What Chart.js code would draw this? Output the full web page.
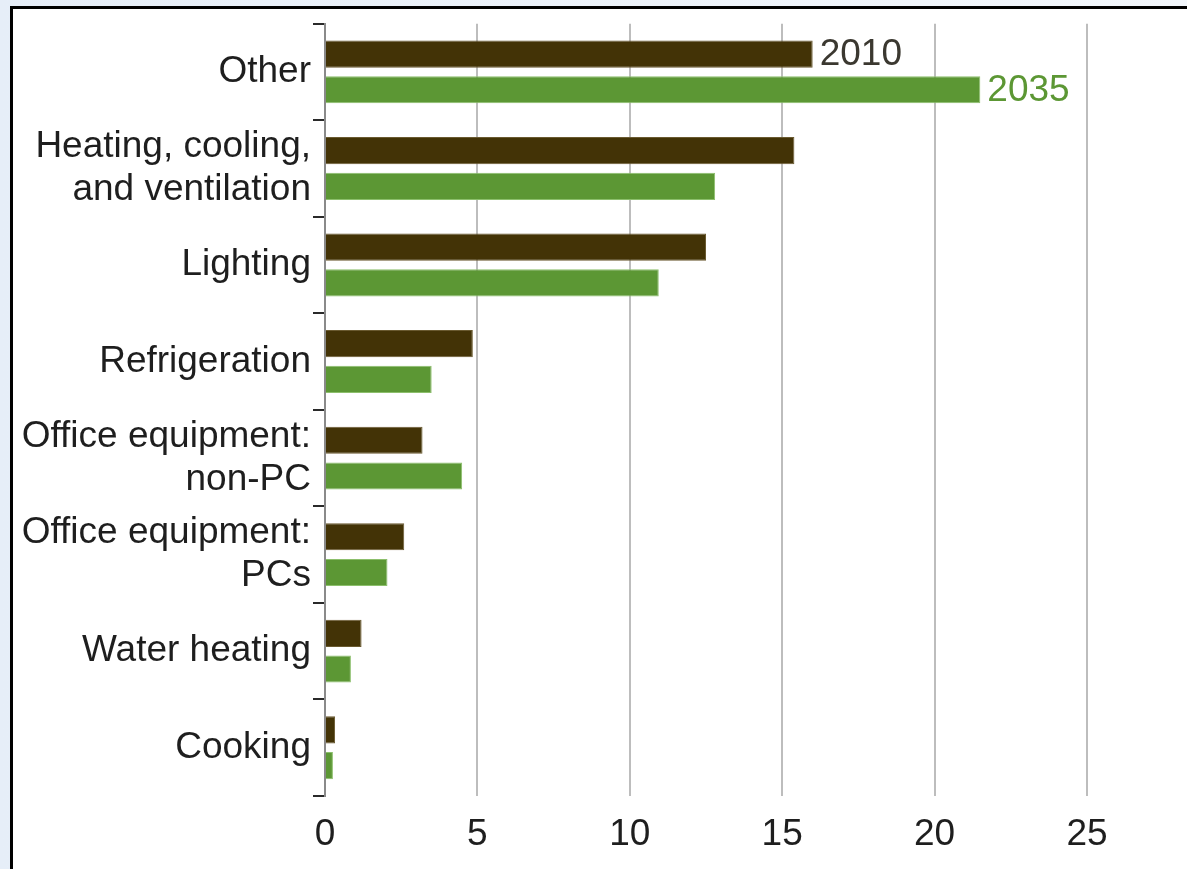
<!DOCTYPE html>
<html>
<head>
<meta charset="utf-8">
<script src="https://cdn.jsdelivr.net/npm/chart.js"></script>
<style>
    html, body { margin:0; padding:0; }
    body { width:1187px; height:869px; overflow:hidden; background:linear-gradient(90deg,#e6eef8,#f3f7fc); position:relative; }
    #marco { position:absolute; left:10px; top:6px; width:1200px; height:900px; background:#fff; border-left:3px solid #000; border-top:3px solid #000; }
    #grafico_ { position:absolute; left:0; top:0; }
</style>
</head>
<body>
<div id="marco"></div>
<canvas id="grafico_" width="1187" height="869"></canvas>
<script>

const categorias = [
    'Other',
    ['Heating, cooling,', 'and ventilation'],
    'Lighting',
    'Refrigeration',
    ['Office equipment:', 'non-PC'],
    ['Office equipment:', 'PCs'],
    'Water heating',
    'Cooking'
];
const series = ['2010', '2035'];
const valores2010 = [16.0, 15.4, 12.5, 4.85, 3.2, 2.6, 1.2, 0.33];
const valores2035 = [21.5, 12.8, 10.95, 3.5, 4.5, 2.05, 0.85, 0.26];
const ticksX = [0, 5, 10, 15, 20, 25];

const fuente = "'Liberation Sans', Arial, sans-serif";

// etiqueta del anio junto a la primera barra de cada serie
const etiquetaSerie = {
    id: 'etiquetaSerie',
    afterDatasetsDraw(chart) {
        const ctx = chart.ctx;
        chart.data.datasets.forEach((ds, i) => {
            const bar = chart.getDatasetMeta(i).data[0];
            ctx.save();
            ctx.font = '37px ' + fuente;
            ctx.fillStyle = ds.labelColor;
            ctx.textBaseline = 'middle';
            ctx.textAlign = 'left';
            ctx.fillText(ds.label, bar.x + 7, bar.y + 1);
            ctx.restore();
        });
    }
};

const datachart = {
    labels: categorias,
    datasets: [
        {
            label: series[0],
            data: valores2010,
            backgroundColor: '#433306',
            borderColor: '#6a5a30',
            borderWidth: 1,
            labelColor: '#3b3830',
            categoryPercentage: 0.74,
            barPercentage: 0.76
        },
        {
            label: series[1],
            data: valores2035,
            backgroundColor: '#5c9734',
            borderColor: '#8cbf6c',
            borderWidth: 1,
            labelColor: '#5c9734',
            categoryPercentage: 0.74,
            barPercentage: 0.76
        }
    ]
};

const options = {
    indexAxis: 'y',
    responsive: false,
    animation: false,
    devicePixelRatio: 1,
    layout: { padding: { left: 0, right: 100, top: 22, bottom: 0 } },
    plugins: {
        legend: { display: false },
        tooltip: { enabled: false }
    },
    scales: {
        x: {
            min: 0,
            max: 25,
            afterBuildTicks: (scale) => { scale.ticks = ticksX.map(v => ({ value: v })); },
            afterFit: (scale) => { scale.height = 73; },
            grid: {
                color: (c) => c.tick && c.tick.value === 0 ? 'rgba(0,0,0,0)' : '#bdbdbd',
                lineWidth: 2,
                drawTicks: false
            },
            border: { display: false },
            ticks: {
                padding: 17,
                color: '#1e1e1e',
                font: { family: fuente, size: 37 }
            }
        },
        y: {
            afterFit: (scale) => { scale.width = 325; },
            grid: {
                drawOnChartArea: false,
                drawTicks: true,
                tickLength: 12,
                color: '#2a2a2a',
                lineWidth: 2
            },
            border: { display: true, color: '#8a8a8a', width: 2 },
            ticks: {
                padding: 2,
                color: '#1e1e1e',
                font: { family: fuente, size: 37, lineHeight: 1.17 }
            }
        }
    }
};

new Chart(document.getElementById('grafico_'), {
    type: 'bar',
    data: datachart,
    options: options,
    plugins: [etiquetaSerie]
});

</script>
</body>
</html>
